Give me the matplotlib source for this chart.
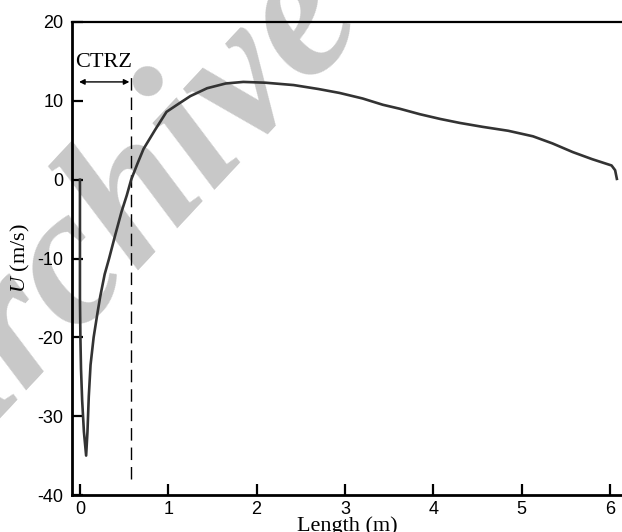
import matplotlib
matplotlib.use("Agg")
import matplotlib.pyplot as plt

plt.rcParams['axes.unicode_minus'] = False
plt.rcParams['mathtext.fontset'] = 'custom'
plt.rcParams['mathtext.it'] = 'Liberation Serif:italic'
plt.rcParams['mathtext.rm'] = 'Liberation Serif'

# Data
length_m = [0.0, 0.0, 0.005, 0.012, 0.025, 0.045, 0.07, 0.085, 0.10, 0.12, 0.155,
            0.20, 0.23, 0.28, 0.33, 0.40, 0.47, 0.53, 0.58, 0.65, 0.72, 0.85,
            0.98, 1.10, 1.25, 1.44, 1.65, 1.85, 2.10, 2.42, 2.70, 2.94, 3.20,
            3.43, 3.62, 3.85, 4.08, 4.30, 4.56, 4.85, 5.13, 5.35, 5.58, 5.80,
            6.02, 6.06, 6.08]
velocity = [0.0, -15.0, -20.0, -24.0, -28.0, -32.0, -35.0, -32.0, -27.5, -23.5, -20.0,
            -16.8, -14.8, -12.0, -10.0, -7.0, -4.1, -2.0, 0.0, 2.0, 3.9, 6.3,
            8.6, 9.5, 10.6, 11.6, 12.2, 12.4, 12.3, 12.0, 11.5, 11.0, 10.3,
            9.5, 9.0, 8.3, 7.7, 7.2, 6.7, 6.2, 5.5, 4.6, 3.5, 2.6,
            1.8, 1.2, 0.1]

ctrz_x = 0.58
ctrz_label = "CTRZ"
x_ticks = [0, 1, 2, 3, 4, 5, 6]
y_ticks = [-40, -30, -20, -10, 0, 10, 20]

fig = plt.figure(figsize=(6.22, 5.32), dpi=100)
ax = fig.add_axes([72/622, 1-495/532, 550/622, 473/532])
ax.set_facecolor('none')

# watermark
fig.text(120/622, 1-232/532, "Archive", fontsize=142, family='Liberation Serif',
         style='italic', weight='bold', color='#c8c8c8', rotation=47,
         rotation_mode='anchor', ha='center', va='center', zorder=-1)

ax.plot(length_m, velocity, color='#333333', lw=1.9, zorder=3)
ax.plot([ctrz_x, ctrz_x], [-38, 13.2], color='black', lw=1.0, ls=(0, (9, 5)))
ax.annotate("", xy=(-0.01, 12.4), xytext=(ctrz_x - 0.02, 12.4),
            arrowprops=dict(arrowstyle='<|-|>', color='black', lw=1.0,
                            mutation_scale=8, shrinkA=0, shrinkB=0))
ax.text(0.27, 14.85, ctrz_label, family='Liberation Serif', fontsize=16,
        ha='center', va='center')

ax.set_xlim(-0.09, 6.138)
ax.set_ylim(-40, 20)
ax.set_xticks(x_ticks)
ax.set_yticks(y_ticks)
ax.set_xticklabels([str(t) for t in x_ticks], family='Liberation Sans', fontsize=13)
ax.set_yticklabels([str(t) for t in y_ticks], family='Liberation Sans', fontsize=13)
ax.tick_params(axis='both', direction='in', length=8, width=1.6, color='black')
ax.tick_params(axis='x', pad=4.5)
ax.tick_params(axis='y', pad=6)
ax.spines['right'].set_visible(False)
ax.spines['left'].set_linewidth(2.0)
ax.spines['bottom'].set_linewidth(2.0)
ax.spines['top'].set_linewidth(1.6)

ax.set_xlabel("Length (m)", family='Liberation Serif', fontsize=16)
ax.xaxis.set_label_coords(0.5, -0.046)
ax.set_ylabel("$U$ (m/s)", family='Liberation Serif', fontsize=16)
ax.yaxis.set_label_coords(-0.072, 0.5)

fig.savefig("out.png", dpi=100)
